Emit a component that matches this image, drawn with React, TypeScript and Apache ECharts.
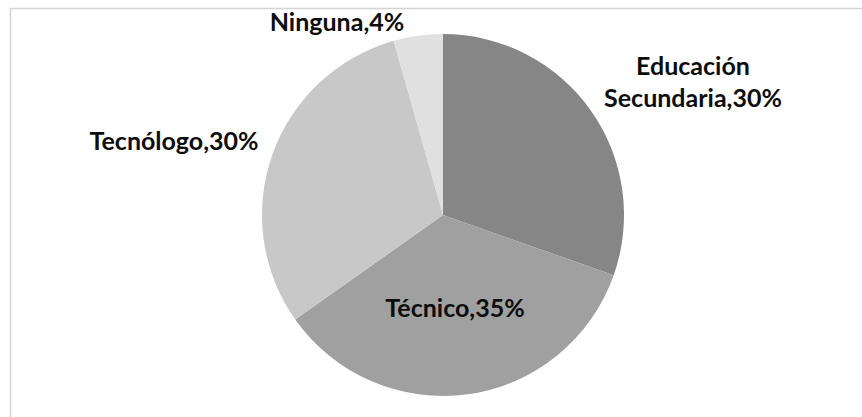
import React, { useEffect, useRef } from "react";
import * as echarts from "echarts";

const categories = ["Educación Secundaria", "Técnico", "Tecnólogo", "Ninguna"];
const values = [30.4, 34.8, 30.4, 4.4];
const percentLabels = ["30%", "35%", "30%", "4%"];
const colors = ["#868686", "#a0a0a0", "#c8c8c8", "#e0e0e0"];
// label anchor positions (centre of text)
const labelPos = [
  [693, 81],
  [455, 307],
  [174, 140],
  [337, 21],
];

export default function App() {
  const ref = useRef<HTMLDivElement>(null);
  useEffect(() => {
    document.body.style.margin = "0";
    const chart = echarts.init(ref.current!, null, { renderer: "svg" });
    chart.setOption({
      animation: false,
      backgroundColor: "#ffffff",
      graphic: [
        { type: "line", shape: { x1: 10, y1: 8.5, x2: 862, y2: 8.5 }, style: { stroke: "#d4d4d4", lineWidth: 1.5 }, silent: true },
        { type: "line", shape: { x1: 10.5, y1: 8, x2: 10.5, y2: 417 }, style: { stroke: "#d4d4d4", lineWidth: 1.5 }, silent: true },
      ],
      series: [
        {
          type: "pie",
          center: [443, 215],
          radius: 181,
          startAngle: 90,
          clockwise: true,
          itemStyle: { borderWidth: 0 },
          label: {
            show: true,
            position: "outside",
            fontFamily: "Lato",
            fontWeight: "bold",
            fontSize: 25,
            lineHeight: 32,
            color: "#0d0d0d",
            align: "center",
            formatter: (p: any) => `${p.name.replace(" ", "\n")},${percentLabels[p.dataIndex]}`,
          },
          labelLine: { show: false },
          labelLayout: (p: any) => ({
            x: labelPos[p.dataIndex][0],
            y: labelPos[p.dataIndex][1],
            align: "center",
            verticalAlign: "middle",
          }),
          data: categories.map((c, i) => ({ name: c, value: values[i], itemStyle: { color: colors[i] } })),
        },
      ],
    });
    return () => chart.dispose();
  }, []);
  return <div ref={ref} style={{ width: 862, height: 417 }} />;
}
